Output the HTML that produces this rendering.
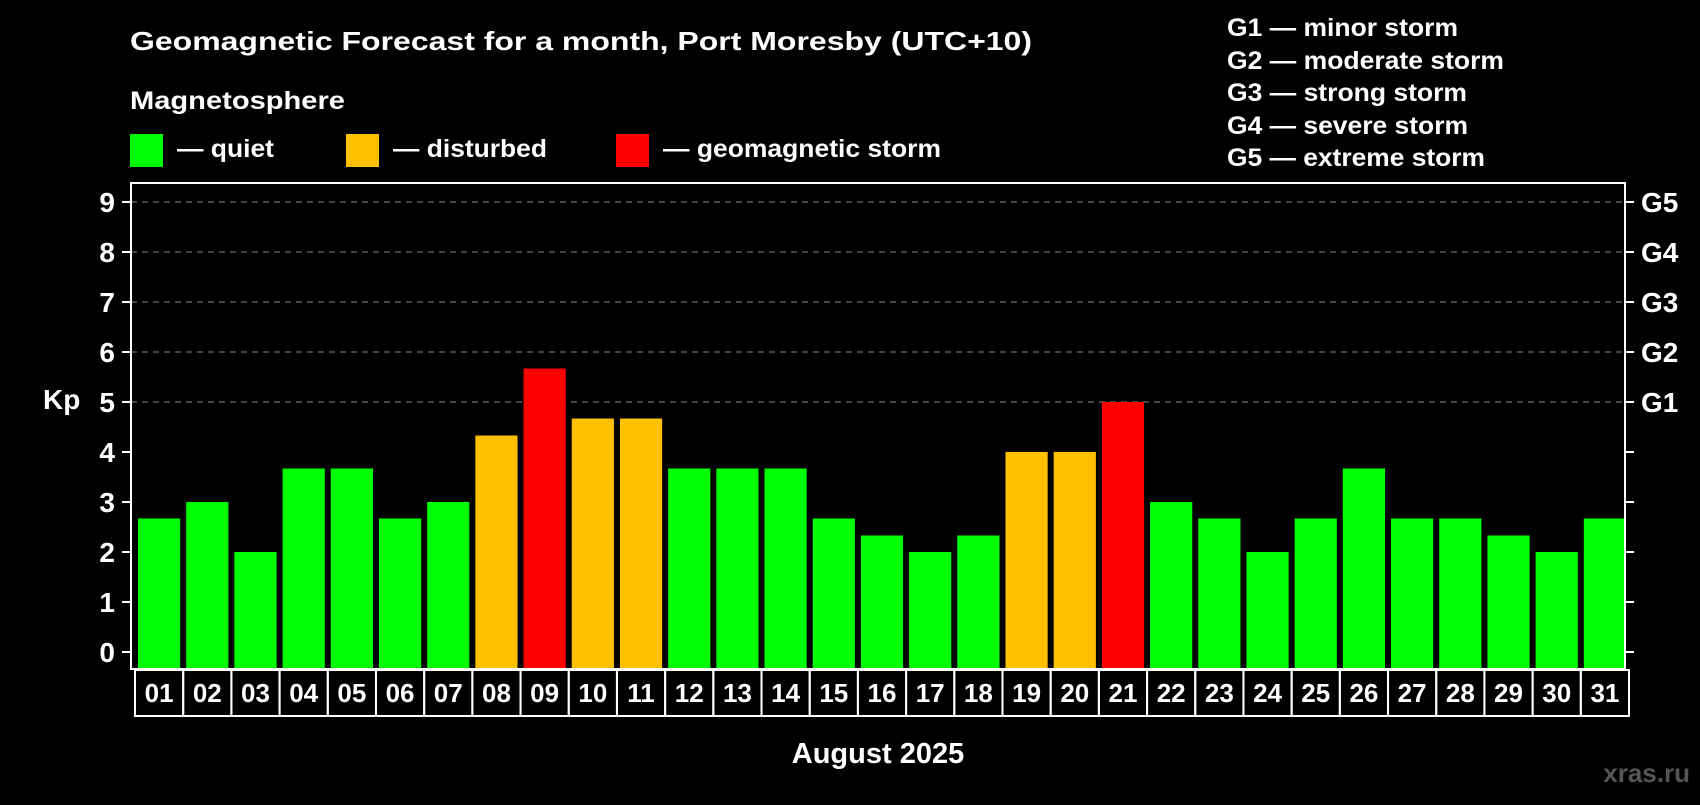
<!DOCTYPE html>
<html><head><meta charset="utf-8"><style>
body{margin:0;background:#000;width:1700px;height:800px;overflow:hidden;font-family:"Liberation Sans",sans-serif;font-weight:bold;color:#fff}
</style></head><body>
<svg width="1700" height="800" xmlns="http://www.w3.org/2000/svg" font-family="Liberation Sans, sans-serif" font-weight="bold">
<rect width="1700" height="800" fill="#000"/>
<text x="130" y="50" font-size="26" fill="#fff" textLength="902" lengthAdjust="spacingAndGlyphs">Geomagnetic Forecast for a month, Port Moresby (UTC+10)</text>
<text x="130" y="109" font-size="25" fill="#fff" textLength="215" lengthAdjust="spacingAndGlyphs">Magnetosphere</text>
<rect x="130" y="134" width="33" height="33" fill="#00ff00"/>
<text x="177" y="157" font-size="25" fill="#fff" textLength="97" lengthAdjust="spacingAndGlyphs">— quiet</text>
<rect x="346" y="134" width="33" height="33" fill="#ffc000"/>
<text x="393" y="157" font-size="25" fill="#fff" textLength="154" lengthAdjust="spacingAndGlyphs">— disturbed</text>
<rect x="616" y="134" width="33" height="33" fill="#ff0000"/>
<text x="663" y="157" font-size="25" fill="#fff" textLength="278" lengthAdjust="spacingAndGlyphs">— geomagnetic storm</text>
<g font-size="25" fill="#fff">
<text x="1227" y="36" textLength="231" lengthAdjust="spacingAndGlyphs">G1 — minor storm</text>
<text x="1227" y="69" textLength="277" lengthAdjust="spacingAndGlyphs">G2 — moderate storm</text>
<text x="1227" y="101" textLength="240" lengthAdjust="spacingAndGlyphs">G3 — strong storm</text>
<text x="1227" y="134" textLength="241" lengthAdjust="spacingAndGlyphs">G4 — severe storm</text>
<text x="1227" y="166" textLength="258" lengthAdjust="spacingAndGlyphs">G5 — extreme storm</text>
</g>
<g id="grid"></g>
<g id="bars"></g>
<rect x="131" y="183" width="1494" height="486" fill="none" stroke="#fff" stroke-width="2"/>
<g id="axes"></g>
<text x="43" y="409" font-size="28" fill="#fff">Kp</text>
<text x="878" y="763" font-size="29" fill="#fff" text-anchor="middle">August 2025</text>
<text x="1690" y="782" font-size="26" fill="#555" text-anchor="end">xras.ru</text>
</svg>
<script>
const days=["01","02","03","04","05","06","07","08","09","10","11","12","13","14","15","16","17","18","19","20","21","22","23","24","25","26","27","28","29","30","31"];
const kpValues=[2.67,3,2,3.67,3.67,2.67,3,4.33,5.67,4.67,4.67,3.67,3.67,3.67,2.67,2.33,2,2.33,4,4,5,3,2.67,2,2.67,3.67,2.67,2.67,2.33,2,2.67];
const yTicks=[0,1,2,3,4,5,6,7,8,9];
const gLabels=["G1","G2","G3","G4","G5"];
const gLevels=[5,6,7,8,9];
const NS="http://www.w3.org/2000/svg";
const X0=131,X1=1625,Y0=652,PER=50,BOT=668;
const step=(X1-X0)/days.length;
const y=v=>Y0-v*PER;
const x=i=>X0+i*step;
function mk(t,a,p){const e=document.createElementNS(NS,t);for(const k in a)e.setAttribute(k,a[k]);p.appendChild(e);return e;}
const grid=document.getElementById('grid'),bars=document.getElementById('bars'),axes=document.getElementById('axes');
gLevels.forEach(v=>{const l=mk('line',{x1:X0,x2:X1,y1:y(v),y2:y(v),stroke:'#888','stroke-dasharray':'6,5','stroke-width':1},grid);

});
kpValues.forEach((v,i)=>{const c=v>=5?'#ff0000':(v>=4?'#ffc000':'#00ff00');
const r=mk('rect',{x:x(i)+7,y:y(v),width:step-6,height:BOT-y(v),fill:c},bars);


const b=mk('rect',{x:x(i)+4,y:670,width:step,height:46,fill:'none',stroke:'#fff','stroke-width':2},axes);


const t=mk('text',{x:x(i)+4+step/2,y:702,'font-size':26,fill:'#fff','text-anchor':'middle'},axes);t.textContent=days[i];

});
yTicks.forEach(v=>{mk('line',{x1:122,x2:131,y1:y(v),y2:y(v),stroke:'#fff','stroke-width':2},axes);
mk('line',{x1:1625,x2:1634,y1:y(v),y2:y(v),stroke:'#fff','stroke-width':2},axes);
const t=mk('text',{x:115,y:y(v)+10,'font-size':28,fill:'#fff','text-anchor':'end'},axes);t.textContent=v;

});
gLevels.forEach((v,i)=>{const t=mk('text',{x:1641,y:y(v)+10,'font-size':28,fill:'#fff'},axes);t.textContent=gLabels[i];

});
</script>
</body></html>
